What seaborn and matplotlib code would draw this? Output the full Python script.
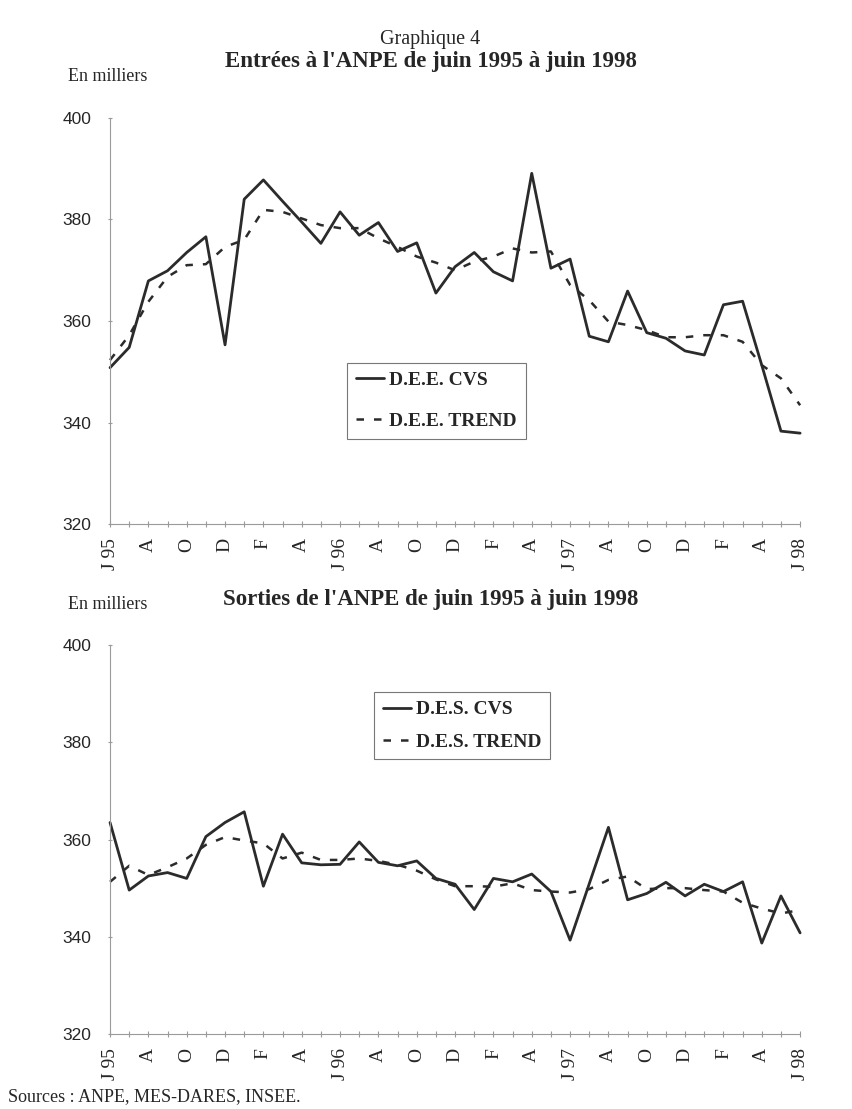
import numpy as np
import pandas as pd
import matplotlib
matplotlib.use("Agg")
import matplotlib.pyplot as plt
import seaborn as sns

# ------------------------------------------
# DATA (en milliers, juin 1995 -> juin 1998)
# ------------------------------------------

months = list(range(37))
tick_labels = ["J 95", "A", "O", "D", "F", "A",
               "J 96", "A", "O", "D", "F", "A",
               "J 97", "A", "O", "D", "F", "A", "J 98"]

dee_cvs = [350.8, 354.8, 367.9, 369.9, 373.5, 376.6, 355.3, 384.0, 387.8, 383.6,
           379.5, 375.3, 381.5, 376.9, 379.4, 373.7, 375.4, 365.5, 370.7, 373.5,
           369.7, 367.9, 389.1, 370.4, 372.2, 357.0, 355.9, 365.9, 357.7, 356.6,
           354.1, 353.3, 363.2, 363.9, 351.3, 338.3, 337.9]
dee_trend = [352.3, 357.2, 363.8, 368.7, 371.0, 371.2, 374.6, 376.0, 381.9, 381.5,
             380.2, 378.9, 378.3, 378.3, 376.3, 374.6, 372.7, 371.5, 370.0, 371.7,
             372.7, 374.3, 373.5, 373.7, 367.1, 364.1, 359.9, 359.2, 358.2, 356.8,
             356.8, 357.2, 357.2, 355.9, 351.3, 348.7, 343.4]

des_cvs = [363.5, 349.6, 352.5, 353.2, 352.0, 360.6, 363.5, 365.7, 350.4, 361.1,
           355.2, 354.8, 354.9, 359.5, 355.3, 354.6, 355.6, 352.0, 350.8, 345.6,
           352.0, 351.3, 352.9, 349.3, 339.3, 350.9, 362.5, 347.6, 348.9, 351.2,
           348.4, 350.8, 349.3, 351.3, 338.7, 348.4, 340.8]
des_trend = [351.3, 354.6, 352.7, 354.3, 356.1, 358.9, 360.5, 359.8, 359.2, 356.1,
             357.3, 355.8, 355.8, 356.1, 355.6, 354.8, 353.6, 351.8, 350.4, 350.4,
             350.3, 351.0, 349.6, 349.3, 349.1, 349.8, 351.7, 352.4, 349.8, 350.0,
             350.0, 349.6, 349.3, 347.0, 345.8, 344.8, 345.5]

# ------------------------------------------
# STYLE
# ------------------------------------------

sns.set_style("white")
plt.rcParams["font.family"] = ["Liberation Serif", "DejaVu Serif"]

line_color = "#2b2b2b"
axis_color = "#9a9a9a"

fig = plt.figure(figsize=(8.53, 11.09), dpi=100)
ax1 = fig.add_axes([0.129, 0.5275, 0.809, 0.3661])
ax2 = fig.add_axes([0.129, 0.0676, 0.809, 0.3508])


def draw_panel(ax, cvs, trend, lab_cvs, lab_trend, legend_anchor, spacing):
    df = pd.DataFrame({"mois": months, "cvs": cvs, "trend": trend})
    sns.lineplot(data=df, x="mois", y="cvs", ax=ax, color=line_color,
                 linewidth=2.0, label=lab_cvs, clip_on=False)
    sns.lineplot(data=df, x="mois", y="trend", ax=ax, color=line_color,
                 linewidth=1.8, linestyle=(0, (3, 4)), label=lab_trend,
                 clip_on=False)

    ax.set_xlim(0, 36)
    ax.set_ylim(320, 400)
    ax.set_yticks([320, 340, 360, 380, 400])
    ax.set_yticklabels(["320", "340", "360", "380", "400"],
                       family="Liberation Sans", fontsize=12.5)
    ax.set_xticks(range(0, 37, 2))
    ax.set_xticks(range(0, 37), minor=True)
    ax.set_xticklabels(tick_labels, rotation=90, fontsize=14)
    ax.tick_params(axis="y", length=3, direction="inout",
                   color=axis_color, width=0.8, pad=12, left=True)
    ax.tick_params(axis="x", which="both", length=4, direction="inout",
                   color=axis_color, width=0.8, pad=8, bottom=True)
    ax.set_xlabel("")
    ax.set_ylabel("")

    for side in ["top", "right"]:
        ax.spines[side].set_visible(False)
    for side in ["left", "bottom"]:
        ax.spines[side].set_color(axis_color)
        ax.spines[side].set_linewidth(0.8)

    leg = ax.legend(loc="upper left", bbox_to_anchor=legend_anchor,
                    borderaxespad=0, frameon=True, fancybox=False,
                    handlelength=1.45, handletextpad=0.25,
                    labelspacing=spacing, borderpad=0.45,
                    prop={"weight": "bold", "size": 14})
    leg.get_frame().set_edgecolor("#555555")
    leg.get_frame().set_linewidth(0.8)


draw_panel(ax1, dee_cvs, dee_trend, "D.E.E. CVS", "D.E.E. TREND",
           (0.344, 0.397), 1.2)
draw_panel(ax2, des_cvs, des_trend, "D.E.S. CVS", "D.E.S. TREND",
           (0.383, 0.879), 0.75)

# ------------------------------------------
# TEXTS
# ------------------------------------------

fig.text(0.504, 0.9645, "Graphique 4", ha="center", va="center", fontsize=14.5)
fig.text(0.505, 0.9445, "Entrées à l'ANPE de juin 1995 à juin 1998",
         ha="center", va="center", fontsize=16.5, fontweight="bold")
fig.text(0.08, 0.931, "En milliers", ha="left", va="center", fontsize=13)

fig.text(0.505, 0.459, "Sorties de l'ANPE de juin 1995 à juin 1998",
         ha="center", va="center", fontsize=16.5, fontweight="bold")
fig.text(0.08, 0.455, "En milliers", ha="left", va="center", fontsize=13)

fig.text(0.009, 0.011, "Sources : ANPE, MES-DARES, INSEE.", ha="left",
         va="center", fontsize=13)

fig.savefig("out.png", dpi=100)
